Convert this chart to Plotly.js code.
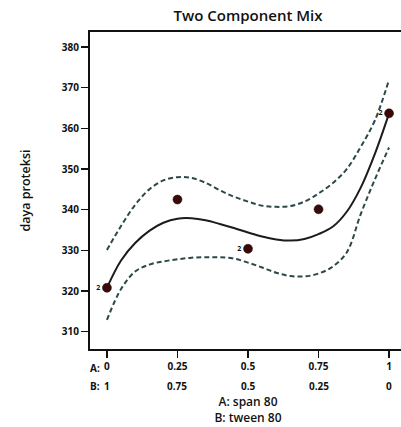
<!DOCTYPE html>
<html>
<head>
<meta charset="utf-8">
<script src="https://cdn.plot.ly/plotly-3.0.1.min.js"></script>
<style>
html, body { margin: 0; padding: 0; overflow: hidden; background: #fff; width: 401px; height: 427px; }
#chart { width: 420px; height: 427px; }
</style>
</head>
<body>
<div id="chart"></div>
<script>
// Fraction of A (span 80); B (tween 80) = 1 - A
const curveX = [0, 0.05, 0.1, 0.15, 0.2, 0.25, 0.3, 0.35, 0.4, 0.45, 0.5, 0.55, 0.6, 0.65, 0.7, 0.75, 0.8, 0.85, 0.9, 0.95, 1];
const fitMean = [320.8, 327.5, 331.8, 334.8, 336.8, 337.8, 337.9, 337.4, 336.5, 335.5, 334.4, 333.4, 332.7, 332.4, 332.8, 334.0, 335.8, 339.5, 345.5, 353.8, 363.7];
const fitUpper = [330.1, 336.0, 341.2, 345.0, 347.2, 348.0, 347.8, 346.6, 344.8, 343.2, 342.0, 341.0, 340.7, 340.9, 342.0, 344.0, 346.5, 350.0, 355.5, 362.0, 372.0];
const fitLower = [312.9, 320.5, 324.8, 326.5, 327.3, 327.8, 328.2, 328.3, 328.3, 328.0, 327.0, 325.8, 324.5, 323.7, 323.6, 324.3, 326.0, 329.5, 339.0, 347.5, 355.3];

const pointX = [0, 0.25, 0.5, 0.75, 1];
const pointY = [320.8, 342.5, 330.4, 340.1, 363.7];
const pointCount = ["2", "", "2", "", "2"];

const tickVals = [0, 0.25, 0.5, 0.75, 1];
const tickA = ["0", "0.25", "0.5", "0.75", "1"];
const tickB = ["1", "0.75", "0.5", "0.25", "0"];
const yTicks = [310, 320, 330, 340, 350, 360, 370, 380];

const font = "'Open Sans', 'DejaVu Sans', sans-serif";
const bandColor = "#2c4848";
const tickFont = { family: font, size: 10, color: "#111", weight: "bold" };

const traces = [
  { x: curveX, y: fitUpper, mode: "lines", line: { color: bandColor, width: 2, dash: "5px,3px", shape: "spline", smoothing: 1 }, hoverinfo: "skip" },
  { x: curveX, y: fitLower, mode: "lines", line: { color: bandColor, width: 2, dash: "5px,3px", shape: "spline", smoothing: 1 }, hoverinfo: "skip" },
  { x: curveX, y: fitMean, mode: "lines", line: { color: "#1c1c1c", width: 2, shape: "spline", smoothing: 1 }, hoverinfo: "skip" },
  { x: pointX, y: pointY, mode: "markers+text", text: pointCount, textposition: "middle left",
    textfont: { family: font, size: 7, color: "#111", weight: "bold" },
    marker: { color: "#3a0a0a", size: 9, line: { color: "#220505", width: 0.5 } } }
];

const annotations = [];
tickB.forEach((t, i) => {
  annotations.push({ x: tickVals[i], xref: "x", y: 0, yref: "paper", yshift: -37, text: t,
    showarrow: false, xanchor: "center", yanchor: "middle", font: tickFont });
});
annotations.push({ x: 0, xref: "x", y: 0, yref: "paper", yshift: -19, xshift: -5, text: "A:",
  showarrow: false, xanchor: "right", yanchor: "middle", font: tickFont });
annotations.push({ x: 0, xref: "x", y: 0, yref: "paper", yshift: -37, xshift: -5, text: "B:",
  showarrow: false, xanchor: "right", yanchor: "middle", font: tickFont });

const layout = {
  width: 420, height: 427,
  margin: { l: 90, r: 14, t: 32, b: 78 },
  paper_bgcolor: "#fff", plot_bgcolor: "#fff",
  showlegend: false,
  title: { text: "Two Component Mix", x: 0.5, xref: "paper", xanchor: "center", y: 1 - 16 / 427, yref: "container", yanchor: "middle",
    font: { family: font, size: 15, color: "#111", weight: 600 } },
  xaxis: {
    range: [-0.06, 1.06], showgrid: false, zeroline: false,
    showline: true, linecolor: "#111", linewidth: 2, mirror: true,
    ticks: "outside", ticklen: 7, tickwidth: 1.5, tickcolor: "#111",
    tickvals: tickVals, ticktext: tickA, tickfont: tickFont,
    title: { text: "A: span 80<br>B: tween 80", standoff: 26, font: { family: font, size: 12, color: "#111", weight: 600 } },
    automargin: false
  },
  yaxis: {
    range: [305.75, 383.7], showgrid: false, zeroline: false,
    showline: true, linecolor: "#111", linewidth: 2, mirror: true,
    ticks: "outside", ticklen: 7, tickwidth: 1.5, tickcolor: "#111",
    tickvals: yTicks, tickfont: tickFont,
    title: { text: "daya proteksi", standoff: 28, font: { family: font, size: 12.5, color: "#111", weight: 600 } },
    automargin: false
  },
  annotations: annotations
};

Plotly.newPlot("chart", traces, layout, { displayModeBar: false, staticPlot: true });
</script>
</body>
</html>
